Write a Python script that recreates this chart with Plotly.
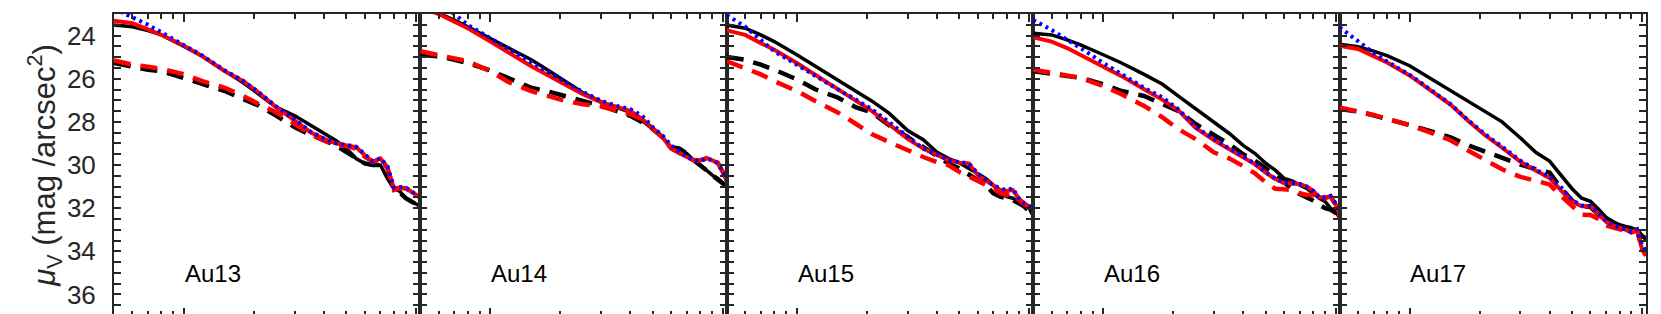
import numpy as np
import plotly.graph_objects as go
from plotly.subplots import make_subplots

# radius sample points (kpc), shared by all panels
radius = [5, 6, 7, 8, 10, 12, 15, 18, 21, 25, 30, 35, 40, 45, 50, 55, 60, 65, 70, 75, 80, 85, 90, 95, 100, 104]

halos = ['Au13', 'Au14', 'Au15', 'Au16', 'Au17']

# black solid
black_solid = [
    [23.51, 23.59, 23.77, 23.97, 24.5, 24.96, 25.65, 26.19, 26.72, 27.33, 27.72, 28.17, 28.56, 28.86, 29.24, 29.7, 29.93, 30.01, 30.0, 30.62, 31.08, 31.23, 31.54, 31.69, 31.84, 31.92],
    [22.6, 22.95, 23.28, 23.59, 24.12, 24.58, 25.12, 25.65, 26.11, 26.65, 27.07, 27.33, 27.56, 27.94, 28.33, 28.71, 29.17, 29.24, 29.47, 29.78, 30.0, 30.24, 30.47, 30.62, 30.85, 31.0],
    [23.51, 23.66, 23.97, 24.28, 24.89, 25.42, 26.03, 26.57, 27.03, 27.61, 28.4, 28.83, 29.4, 29.7, 29.89, 30.16, 30.39, 30.62, 30.93, 31.31, 31.47, 31.54, 31.69, 31.85, 32.0, 32.38],
    [23.89, 23.97, 24.2, 24.43, 24.89, 25.27, 25.8, 26.26, 26.8, 27.41, 28.05, 28.55, 29.09, 29.47, 29.92, 30.24, 30.62, 30.74, 30.93, 31.08, 31.31, 31.54, 31.69, 32.0, 32.15, 32.46],
    [24.4, 24.52, 24.72, 24.93, 25.4, 25.92, 26.56, 27.05, 27.5, 28.0, 28.75, 29.42, 29.82, 30.47, 31.1, 31.54, 31.68, 32.05, 32.42, 32.62, 32.77, 32.85, 32.91, 33.05, 33.3, 33.45],
]

# black dashed
black_dash = [
    [25.27, 25.45, 25.58, 25.65, 25.96, 26.26, 26.57, 26.95, 27.25, 27.72, 28.25, 28.6, 28.86, 29.09, 29.4, 29.7, 29.93, 30.0, 30.0, 30.54, 31.08, 31.3, 31.54, 31.69, 31.84, 31.92],
    [24.89, 24.96, 25.12, 25.27, 25.62, 25.96, 26.42, 26.61, 26.83, 27.03, 27.26, 27.49, 27.72, 28.02, 28.33, 28.71, 29.17, 29.24, 29.47, 29.78, 30.0, 30.24, 30.47, 30.65, 30.85, 31.0],
    [24.99, 25.12, 25.35, 25.58, 26.03, 26.49, 26.87, 27.33, 27.56, 28.17, 28.71, 29.17, 29.63, 29.93, 30.16, 30.47, 30.7, 30.93, 31.31, 31.47, 31.54, 31.62, 31.77, 31.92, 32.15, 32.38],
    [25.65, 25.8, 25.88, 25.96, 26.26, 26.57, 26.8, 27.18, 27.49, 28.1, 28.6, 29.05, 29.5, 29.8, 30.15, 30.5, 30.85, 31.1, 31.35, 31.5, 31.65, 31.85, 32.0, 32.07, 32.22, 32.46],
    [27.4, 27.52, 27.7, 27.85, 28.15, 28.4, 28.72, 29.1, 29.38, 29.7, 29.98, 30.2, 30.35, 31.1, 31.65, 31.9, 31.95, 32.3, 32.6, 32.8, 32.9, 32.95, 33.0, 33.0, 33.3, 33.4],
]

# red solid
red_solid = [
    [23.31, 23.43, 23.71, 23.97, 24.47, 24.96, 25.65, 26.11, 26.65, 27.33, 27.94, 28.48, 28.79, 29.0, 29.09, 29.17, 29.55, 29.86, 29.7, 30.09, 31.08, 31.05, 31.08, 31.23, 31.39, 31.54],
    [22.7, 23.0, 23.36, 23.66, 24.28, 24.81, 25.42, 25.88, 26.26, 26.72, 27.1, 27.29, 27.49, 27.87, 28.33, 28.71, 29.24, 29.47, 29.63, 29.78, 29.78, 29.67, 29.78, 29.89, 30.32, 30.77],
    [23.76, 23.97, 24.35, 24.66, 25.27, 25.8, 26.49, 27.03, 27.49, 28.1, 28.79, 29.24, 29.55, 29.78, 29.89, 29.93, 30.47, 30.7, 30.93, 31.16, 31.2, 31.16, 31.54, 31.77, 31.92, 31.97],
    [24.08, 24.28, 24.58, 24.89, 25.42, 25.88, 26.49, 26.98, 27.45, 28.28, 28.85, 29.28, 29.62, 29.97, 30.35, 30.65, 30.84, 30.84, 30.88, 31.0, 31.2, 31.5, 31.5, 31.45, 31.8, 32.3],
    [24.47, 24.62, 24.95, 25.25, 25.85, 26.45, 27.2, 27.98, 28.6, 29.2, 29.85, 30.27, 30.6, 31.2, 31.7, 31.91, 31.91, 32.3, 32.62, 32.8, 32.9, 33.0, 33.14, 33.0, 33.9, 34.2],
]

# red dashed
red_dash = [
    [25.15, 25.35, 25.45, 25.54, 25.8, 26.11, 26.42, 26.8, 27.18, 27.56, 28.1, 28.56, 28.86, 29.09, 29.12, 29.24, 29.62, 29.86, 29.7, 30.16, 31.16, 31.08, 31.08, 31.23, 31.39, 31.51],
    [24.73, 24.89, 25.04, 25.19, 25.65, 26.16, 26.57, 26.8, 27.03, 27.18, 27.29, 27.49, 27.64, 27.87, 28.33, 28.71, 29.24, 29.47, 29.63, 29.78, 29.78, 29.7, 29.78, 29.89, 30.32, 30.77],
    [25.19, 25.5, 25.8, 26.11, 26.57, 27.03, 27.56, 28.1, 28.56, 28.94, 29.32, 29.63, 29.86, 30.01, 30.32, 30.54, 30.77, 30.93, 31.08, 31.31, 31.39, 31.31, 31.62, 31.82, 31.97, 32.07],
    [25.58, 25.73, 25.85, 25.96, 26.34, 26.72, 27.26, 27.79, 28.33, 28.8, 29.42, 29.7, 30.05, 30.39, 30.8, 31.1, 31.12, 31.16, 31.31, 31.39, 31.39, 31.6, 31.55, 31.45, 31.85, 32.4],
    [27.33, 27.5, 27.68, 27.85, 28.15, 28.45, 28.85, 29.35, 29.75, 30.2, 30.55, 30.72, 30.9, 31.45, 31.9, 32.3, 32.32, 32.5, 32.8, 32.9, 33.0, 33.05, 33.14, 33.0, 33.9, 34.2],
]

# blue dotted
blue_dot = [
    [22.75, 23.13, 23.5, 23.85, 24.47, 24.93, 25.62, 26.1, 26.63, 27.3, 27.9, 28.45, 28.77, 29.0, 29.07, 29.15, 29.5, 29.83, 29.68, 30.05, 31.05, 31.02, 31.05, 31.2, 31.36, 31.5],
    [22.3, 22.7, 23.0, 23.51, 24.12, 24.66, 25.27, 25.73, 26.16, 26.61, 27.03, 27.26, 27.41, 27.72, 28.25, 28.63, 29.09, 29.4, 29.63, 29.78, 29.82, 29.7, 29.78, 29.93, 30.32, 30.62],
    [23.05, 23.59, 24.2, 24.73, 25.35, 25.88, 26.49, 26.98, 27.41, 28.02, 28.71, 29.24, 29.51, 29.78, 29.86, 29.93, 30.39, 30.7, 30.93, 31.08, 31.16, 31.08, 31.54, 31.77, 31.92, 32.0],
    [23.28, 23.74, 24.2, 24.58, 25.27, 25.8, 26.42, 26.87, 27.4, 28.25, 28.82, 29.25, 29.6, 29.95, 30.33, 30.63, 30.82, 30.84, 30.88, 31.0, 31.2, 31.48, 31.5, 31.43, 31.78, 32.25],
    [23.62, 24.25, 24.8, 25.2, 25.82, 26.42, 27.18, 27.95, 28.55, 29.15, 29.8, 30.22, 30.55, 31.05, 31.62, 31.88, 31.9, 32.25, 32.6, 32.78, 32.9, 32.98, 33.1, 33.0, 33.7, 34.0],
]

FONT = 'Liberation Sans, Arial, Helvetica, sans-serif'
AXC = '#262626'

fig = make_subplots(rows=1, cols=5, shared_yaxes=True, horizontal_spacing=0)

for i in range(5):
    col = i + 1
    fig.add_trace(go.Scatter(x=radius, y=black_solid[i], mode='lines',
                             line=dict(color='black', width=3.5)), row=1, col=col)
    fig.add_trace(go.Scatter(x=radius, y=black_dash[i], mode='lines',
                             line=dict(color='black', width=4.5, dash='17px,10px')), row=1, col=col)
    fig.add_trace(go.Scatter(x=radius, y=red_solid[i], mode='lines',
                             line=dict(color='#ff0000', width=4)), row=1, col=col)
    fig.add_trace(go.Scatter(x=radius, y=red_dash[i], mode='lines',
                             line=dict(color='#ff0000', width=4.5, dash='17px,10px')), row=1, col=col)
    fig.add_trace(go.Scatter(x=radius, y=blue_dot[i], mode='lines',
                             line=dict(color='#0000ff', width=4, dash='3px,4px')), row=1, col=col)

    xname = 'x' if i == 0 else 'x%d' % col
    yname = 'y' if i == 0 else 'y%d' % col
    fig.add_annotation(x=np.log10(13.3), y=35.05, xref=xname, yref=yname,
                       text=halos[i], showarrow=False,
                       font=dict(family=FONT, size=24, color='black'))

fig.update_xaxes(type='log', range=[np.log10(5), np.log10(104)],
                 showticklabels=False, showgrid=False, zeroline=False,
                 showline=True, linecolor=AXC, linewidth=2, mirror='allticks',
                 ticks='inside', dtick=1, ticklen=8, tickwidth=1.5, tickcolor=AXC,
                 minor=dict(ticks='inside', dtick='D1', ticklen=5, tickwidth=1.5, tickcolor=AXC))

fig.update_yaxes(range=[37, 23], showgrid=False, zeroline=False,
                 showline=True, linecolor=AXC, linewidth=2, mirror='allticks',
                 ticks='inside', tick0=24, dtick=2, ticklen=7, tickwidth=1.5, tickcolor=AXC,
                 minor=dict(ticks='inside', dtick=0.5, ticklen=7, tickwidth=1.5, tickcolor=AXC),
                 tickfont=dict(family=FONT, size=26, color=AXC))

fig.update_yaxes(title=dict(text='<i>μ</i><sub>V</sub> (mag /arcsec<sup>2</sup>)',
                            font=dict(family=FONT, size=31, color=AXC), standoff=0),
                 ticklabelstandoff=11, row=1, col=1)

fig.update_layout(width=1661, height=314, showlegend=False,
                  plot_bgcolor='white', paper_bgcolor='white',
                  margin=dict(l=106, r=23, t=4, b=6))

fig.write_html('out.html')
